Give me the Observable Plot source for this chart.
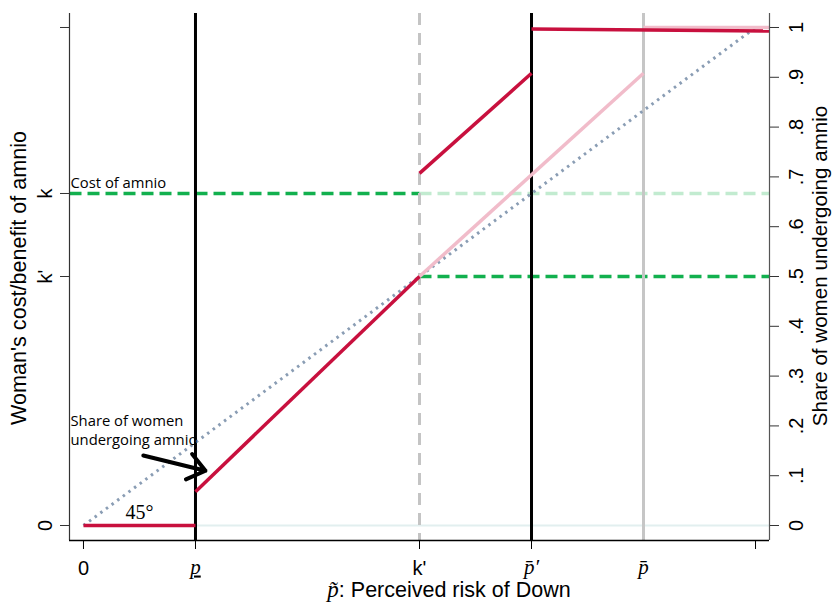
<!DOCTYPE html>
<html>
<head>
<meta charset="utf-8">
<script src="https://cdn.jsdelivr.net/npm/d3@7"></script>
<script src="https://cdn.jsdelivr.net/npm/@observablehq/plot@0.6"></script>
<style>
  html, body { margin: 0; padding: 0; background: #fff; }
  #chart svg { display: block; }
</style>
</head>
<body>
<div id="chart"></div>
<script>
// ---- data ----
const pLow = 1/6, kPrime = 0.5, pBarPrime = 2/3, pBar = 5/6, kCost = 2/3;
const xDomain = [-0.0208, 1.0208];
const yDomain = [-0.0301, 1.0281];

// actual share undergoing amnio (red)
const redSegments = [
  {x1: 0, y1: 0, x2: pLow, y2: 0},
  {x1: pLow, y1: 0.068, x2: kPrime, y2: 0.5},
  {x1: kPrime, y1: 0.707, x2: pBarPrime, y2: 0.908},
  {x1: pBarPrime, y1: 0.997, x2: 1.0208, y2: 0.993}
];
// counterfactual share (pink)
const pinkSegments = [
  {x1: kPrime, y1: 0.5, x2: pBar, y2: 0.908},
  {x1: pBar, y1: 1.0, x2: 1.0208, y2: 1.0}
];
const diagonal = [{x1: 0, y1: 0, x2: 1, y2: 1}];
const costLines = [
  {x1: -0.0208, x2: kPrime, y: kCost, kind: "dark"},
  {x1: kPrime, x2: 1.0208, y: kCost, kind: "light"},
  {x1: kPrime, x2: 1.0208, y: 0.5, kind: "dark"}
];
const zeroLine = [{x1: 0, x2: 1.0208, y: 0}];

const xTickValues = [0, pLow, kPrime, pBarPrime, 1];
const xTickLabels = [
  {x: 0, label: "0", serif: false},
  {x: pLow, label: "p", serif: true},
  {x: kPrime, label: "k'", serif: false},
  {x: pBarPrime, label: "p\u0304\u2032", serif: true},
  {x: pBar, label: "p\u0304", serif: true}
];
const leftTickValues = [0, 0.5, kCost, 1];
const leftTickLabels = [
  {y: 0, label: "0"},
  {y: 0.5, label: "k'"},
  {y: kCost, label: "k"}
];
const rightTickValues = [0, 0.1, 0.2, 0.3, 0.4, 0.5, 0.6, 0.7, 0.8, 0.9, 1];
const rightTickLabels = ["0", ".1", ".2", ".3", ".4", ".5", ".6", ".7", ".8", ".9", "1"];

const arrowData = [{x1: 0.089, y1: 0.1406, x2: 0.1815, y2: 0.110}];
const shareNote = [{y: 0.161, text: "Share of women\nundergoing amnio"}];

// ---- chart ----
const sans = "'Liberation Sans', Arial, Helvetica, sans-serif";
const serif = "'Liberation Serif', 'DejaVu Serif', serif";
const noteFont = "'Open Sans', 'Noto Sans', sans-serif";
const red = "#c8103e", pink = "#f1bcca", green = "#12b04e", lightGreen = "#c2ebd0";

const chart = Plot.plot({
  width: 833,
  height: 604,
  marginLeft: 69,
  marginRight: 64,
  marginTop: 13,
  marginBottom: 64,
  x: {domain: xDomain, axis: null},
  y: {domain: yDomain, axis: null},
  style: {fontFamily: sans, background: "#fff"},
  marks: [
    Plot.link(zeroLine, {x1: "x1", x2: "x2", y1: "y", y2: "y", stroke: "#e2efef", strokeWidth: 2}),
    Plot.link(costLines, {x1: "x1", x2: "x2", y1: "y", y2: "y",
      stroke: d => d.kind === "dark" ? green : lightGreen, strokeWidth: 3.5, strokeDasharray: "12,6"}),
    Plot.ruleX([pBar], {stroke: "#c6c6c6", strokeWidth: 3}),
    Plot.ruleX([kPrime], {stroke: "#c4c4c4", strokeWidth: 3, strokeDasharray: "12,8"}),
    Plot.ruleX([pLow, pBarPrime], {stroke: "#000", strokeWidth: 3}),
    Plot.link(diagonal, {x1: "x1", y1: "y1", x2: "x2", y2: "y2", stroke: "#8a9db4", strokeWidth: 3, strokeDasharray: "2.5,4.5"}),
    Plot.link(pinkSegments, {x1: "x1", y1: "y1", x2: "x2", y2: "y2", stroke: pink, strokeWidth: 3.5}),
    Plot.link(redSegments, {x1: "x1", y1: "y1", x2: "x2", y2: "y2", stroke: red, strokeWidth: 3.5}),
    Plot.arrow(arrowData, {x1: "x1", y1: "y1", x2: "x2", y2: "y2", stroke: "#000", strokeWidth: 4, headLength: 12, headAngle: 75}),
    // frame
    Plot.ruleX([xDomain[0]], {stroke: "#333", strokeWidth: 1.2}),
    Plot.ruleX([xDomain[1]], {stroke: "#555", strokeWidth: 1.2}),
    Plot.ruleY([yDomain[0]], {stroke: "#000", strokeWidth: 1.5}),
    // ticks
    Plot.axisY({anchor: "left", ticks: leftTickValues, tickSize: 9, tickFormat: () => "", label: null, stroke: "#333"}),
    Plot.axisY({anchor: "right", ticks: rightTickValues, tickSize: 9, tickFormat: () => "", label: null, stroke: "#333"}),
    Plot.axisX({anchor: "bottom", ticks: xTickValues, tickSize: 9, tickFormat: () => "", label: null, stroke: "#000"}),
    // tick labels
    Plot.text(leftTickLabels, {y: "y", text: "label", frameAnchor: "left", dx: -24, rotate: -90,
      textAnchor: "middle", lineAnchor: "middle", fontSize: 20, fill: "#000"}),
    Plot.text(rightTickValues, {y: d => d, text: (d, i) => rightTickLabels[i], frameAnchor: "right", dx: 27, rotate: -90,
      textAnchor: "middle", lineAnchor: "middle", fontSize: 20, fill: "#000"}),
    Plot.text(xTickLabels.filter(d => !d.serif), {x: "x", text: "label", frameAnchor: "bottom", dy: 34,
      lineAnchor: "bottom", fontSize: 20, fill: "#000"}),
    Plot.text(xTickLabels.filter(d => d.serif), {x: "x", text: "label", frameAnchor: "bottom", dy: 33,
      lineAnchor: "bottom", fontSize: 21, fontStyle: "italic", fontFamily: serif, fill: "#000"}),
    // annotations
    Plot.text([{y: kCost, text: "Cost of amnio"}], {y: "y", text: "text", frameAnchor: "left", dx: 1, dy: -5,
      textAnchor: "start", lineAnchor: "bottom", fontSize: 14.8, fontFamily: noteFont, fill: "#000"}),
    Plot.text(shareNote, {y: "y", text: "text", frameAnchor: "left", dx: 1,
      textAnchor: "start", lineAnchor: "bottom", fontSize: 14.8, lineHeight: 1.3, fontFamily: noteFont, fill: "#000"}),
    Plot.text([{x: pLow / 2, y: 0, text: "45°"}], {x: "x", y: "y", text: "text", dy: -7, lineAnchor: "bottom",
      fontSize: 20, fontFamily: serif, fill: "#000"}),
    // axis titles
    Plot.text(["Woman's cost/benefit of amnio"], {text: d => d, frameAnchor: "left", dx: -50, dy: 1, rotate: -90,
      textAnchor: "middle", lineAnchor: "middle", fontSize: 21.6, fill: "#000"}),
    Plot.text(["Share of women undergoing amnio"], {text: d => d, frameAnchor: "right", dx: 51, dy: -11, rotate: -90,
      textAnchor: "middle", lineAnchor: "middle", fontSize: 20.6, fill: "#000"})
  ]
});

const svg = d3.select(chart);
// underlined p (lower threshold)
svg.selectAll("text").filter(function() { return this.textContent === "p"; })
  .style("text-decoration", "underline");

// x-axis title with a serif math symbol
const t = svg.append("text")
  .attr("x", 449).attr("y", 597)
  .attr("text-anchor", "middle")
  .attr("font-size", 21.5)
  .attr("font-family", sans)
  .attr("fill", "#000");
t.append("tspan").attr("font-family", serif).attr("font-style", "italic").attr("font-size", 23).text("p\u0303");
t.append("tspan").text(": Perceived risk of Down");

document.getElementById("chart").appendChild(chart);
</script>
</body>
</html>
